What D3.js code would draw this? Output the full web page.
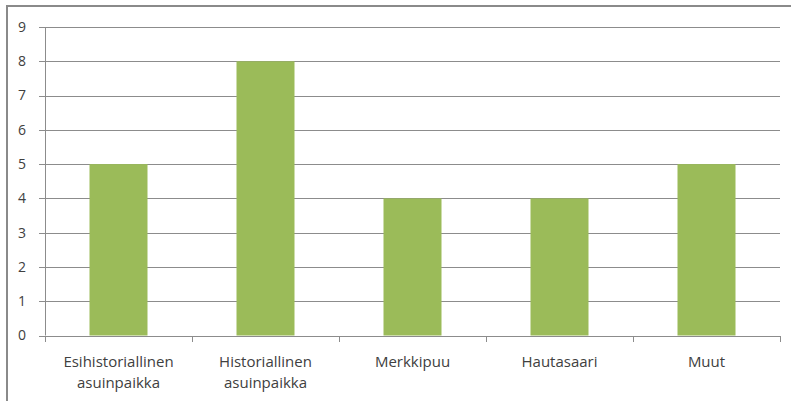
<!DOCTYPE html>
<html>
<head>
<meta charset="utf-8">
<script src="https://cdn.jsdelivr.net/npm/d3@7"></script>
<style>
  body { margin: 0; background: #fff; }
  svg text { font-family: "Open Sans", "DejaVu Sans", sans-serif; fill: #404040; }
</style>
</head>
<body>
<svg id="chart" width="791" height="401"></svg>
<script>
// chart data
var categories = ["Esihistoriallinen\nasuinpaikka", "Historiallinen\nasuinpaikka", "Merkkipuu", "Hautasaari", "Muut"];
var values = [5, 8, 4, 4, 5];
var yTicks = [0, 1, 2, 3, 4, 5, 6, 7, 8, 9];

var width = 791, height = 401;
var margin = {top: 27, right: 11, bottom: 65, left: 45};

var svg = d3.select("#chart");

// outer frame
svg.append("rect")
  .attr("x", 7).attr("y", 6)
  .attr("width", 790).attr("height", 400)
  .attr("fill", "none").attr("stroke", "#8a8a8a").attr("stroke-width", 2);

var xScale = d3.scaleBand().domain(categories).range([margin.left, width - margin.right]).paddingInner(0).paddingOuter(0);
var yScale = d3.scaleLinear().domain([0, 9]).range([height - margin.bottom - 0.5, margin.top]);

var g = svg.append("g");

// grid lines
g.selectAll("line.grid").data(yTicks).enter().append("line")
  .attr("class", "grid")
  .attr("x1", margin.left - 6).attr("x2", width - margin.right)
  .attr("y1", function (d) { return Math.round(yScale(d)) + 0.5; })
  .attr("y2", function (d) { return Math.round(yScale(d)) + 0.5; })
  .attr("stroke", "#8c8c8c").attr("stroke-width", 1);

// y axis line
g.append("line")
  .attr("x1", margin.left + 0.5).attr("x2", margin.left + 0.5)
  .attr("y1", yScale(9)).attr("y2", yScale(0))
  .attr("stroke", "#8c8c8c");

// y tick labels
g.selectAll("text.ytick").data(yTicks).enter().append("text")
  .attr("class", "ytick")
  .attr("x", 26)
  .attr("y", function (d) { return yScale(d); })
  .attr("dy", "0.35em")
  .attr("text-anchor", "end")
  .attr("font-size", 14)
  .text(function (d) { return d; });

// bars
var barW = 58;
g.selectAll("rect.bar").data(values).enter().append("rect")
  .attr("class", "bar")
  .attr("x", function (d, i) { return xScale(categories[i]) + xScale.bandwidth() / 2 - barW / 2; })
  .attr("y", function (d) { return yScale(d); })
  .attr("width", barW)
  .attr("height", function (d) { return yScale(0) - yScale(d); })
  .attr("fill", "#9bbb59");

// x axis ticks at band edges
var edges = categories.map(function (c) { return xScale(c); }).concat([width - margin.right]);
g.selectAll("line.xtick").data(edges).enter().append("line")
  .attr("class", "xtick")
  .attr("x1", function (d) { return Math.round(d) + 0.5; })
  .attr("x2", function (d) { return Math.round(d) + 0.5; })
  .attr("y1", Math.round(yScale(0))).attr("y2", Math.round(yScale(0)) + 6)
  .attr("stroke", "#8c8c8c");

// category labels
var lab = g.selectAll("text.xlab").data(categories).enter().append("text")
  .attr("class", "xlab")
  .attr("x", function (d) { return xScale(d) + xScale.bandwidth() / 2; })
  .attr("y", 367)
  .attr("text-anchor", "middle")
  .attr("font-size", 15);
lab.each(function (d) {
  var parts = d.split("\n");
  var t = d3.select(this);
  parts.forEach(function (p, k) {
    t.append("tspan")
      .attr("x", t.attr("x"))
      .attr("dy", k === 0 ? 0 : 21)
      .text(p);
  });
});
</script>
</body>
</html>
